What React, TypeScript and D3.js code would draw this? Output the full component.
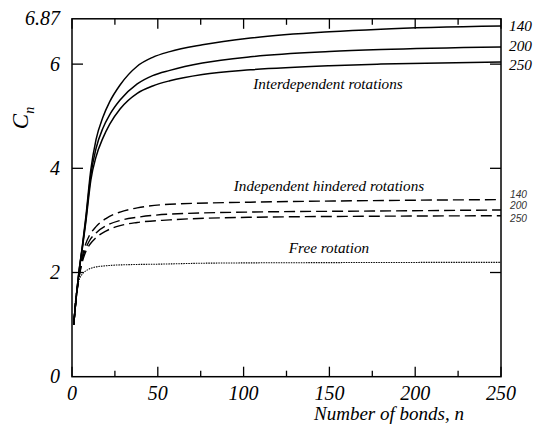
import React from "react";
import * as d3 from "d3";

const W = 535;
const H = 430;

// Interdependent rotations (solid) for 140, 200, 250
const solid140: [number, number][] = [[1,1],[2,1.37],[4,2.0],[6,2.5],[8,3.05],[11,3.98],[14,4.55],[18,4.98],[22,5.28],[28,5.6],[38,5.96],[47,6.13],[57,6.24],[76,6.37],[104,6.5],[150,6.62],[180,6.67],[250,6.73]];
const solid200: [number, number][] = [[1,1],[2,1.37],[4,2.0],[6,2.48],[8,3.0],[11,3.88],[14,4.38],[18,4.77],[22,5.03],[28,5.31],[38,5.62],[47,5.78],[57,5.88],[76,6.02],[104,6.14],[150,6.24],[180,6.28],[250,6.33]];
const solid250: [number, number][] = [[1,1],[2,1.37],[4,1.98],[6,2.46],[8,2.95],[11,3.78],[14,4.22],[18,4.58],[22,4.85],[28,5.14],[38,5.44],[47,5.58],[57,5.68],[76,5.8],[104,5.89],[150,5.97],[180,6.0],[250,6.04]];

// Independent hindered rotations (dashed)
const dash140: [number, number][] = [[1,1],[2,1.37],[4,1.92],[6,2.3],[8,2.55],[10,2.7],[14,2.88],[20,3.04],[28,3.16],[38,3.24],[57,3.31],[104,3.35],[175,3.38],[250,3.4]];
const dash200: [number, number][] = [[1,1],[2,1.37],[4,1.9],[6,2.25],[8,2.46],[10,2.6],[14,2.76],[20,2.9],[28,3.0],[38,3.06],[57,3.12],[104,3.16],[175,3.18],[250,3.2]];
const dash250: [number, number][] = [[1,1],[2,1.37],[4,1.88],[6,2.2],[8,2.4],[10,2.52],[14,2.67],[20,2.8],[28,2.9],[38,2.96],[57,3.01],[104,3.06],[175,3.08],[250,3.09]];

// Free rotation (dotted)
const freeRot: [number, number][] = [[1,1],[2,1.45],[3,1.7],[4,1.84],[6,1.97],[9,2.05],[13,2.1],[20,2.13],[32,2.15],[50,2.16],[80,2.18],[150,2.19],[250,2.195]];

const xMajor = [0, 50, 100, 150, 200, 250];
const xMinor = [25, 75, 125, 175, 225];
const yTicks = [0, 2, 4, 6];
const yTopLabel = 6.87;
const tempLabels = ["140", "200", "250"];

const x = d3.scaleLinear().domain([0, 250]).range([72, 501]);
const y = d3.scaleLinear().domain([0, 6.87]).range([376.7, 18.8]);

const line = d3
  .line<[number, number]>()
  .x((d) => x(d[0]))
  .y((d) => y(d[1]))
  .curve(d3.curveMonotoneX);

const SERIF = "Liberation Serif";
const SANS = "Liberation Sans";

export default function App() {
  const solids = [solid140, solid200, solid250];
  const dashes = [dash140, dash200, dash250];
  const solidLabelY = [31, 51, 69.5];
  const dashLabelY = [198, 208.5, 222];
  return (
    <svg width={W} height={H} style={{ position: "absolute", left: 0, top: 0, background: "#fff" }}>
      <rect x={0} y={0} width={W} height={H} fill="#fff" />
      {solids.map((s, i) => (
        <path key={"s" + i} d={line(s) || ""} fill="none" stroke="#000" strokeWidth={1.5} />
      ))}
      {dashes.map((s, i) => (
        <path key={"d" + i} d={line(s) || ""} fill="none" stroke="#000" strokeWidth={1.4} strokeDasharray="11,5" />
      ))}
      <path d={line(freeRot) || ""} fill="none" stroke="#000" strokeWidth={1.1} strokeDasharray="1.5,1" />

      <rect x={x(0)} y={y(6.87)} width={x(250) - x(0)} height={y(0) - y(6.87)} fill="none" stroke="#000" strokeWidth={1.5} />

      {xMajor.map((t) => (
        <g key={"xm" + t}>
          <line x1={x(t)} x2={x(t)} y1={y(0)} y2={y(0) - 10} stroke="#000" strokeWidth={1.3} />
          <line x1={x(t)} x2={x(t)} y1={y(6.87)} y2={y(6.87) + 10} stroke="#000" strokeWidth={1.3} />
          <text x={x(t)} y={399.5} textAnchor="middle" fontFamily={SERIF} fontStyle="italic" fontSize={20}>
            {t}
          </text>
        </g>
      ))}
      {xMinor.map((t) => (
        <g key={"xn" + t}>
          <line x1={x(t)} x2={x(t)} y1={y(0)} y2={y(0) - 6} stroke="#000" strokeWidth={1.3} />
          <line x1={x(t)} x2={x(t)} y1={y(6.87)} y2={y(6.87) + 6} stroke="#000" strokeWidth={1.3} />
        </g>
      ))}
      {yTicks.map((t) => (
        <g key={"y" + t}>
          {t > 0 && (
            <>
              <line x1={x(0)} x2={x(0) + 11} y1={y(t)} y2={y(t)} stroke="#000" strokeWidth={1.3} />
              <line x1={x(250)} x2={x(250) - 11} y1={y(t)} y2={y(t)} stroke="#000" strokeWidth={1.3} />
            </>
          )}
          <text x={60} y={y(t) + 6.5} textAnchor="end" fontFamily={SERIF} fontStyle="italic" fontSize={20}>
            {t}
          </text>
        </g>
      ))}
      <text x={60} y={y(yTopLabel) + 6.5} textAnchor="end" fontFamily={SERIF} fontStyle="italic" fontSize={20}>
        {yTopLabel}
      </text>

      <text x={389} y={420} textAnchor="middle" fontFamily={SERIF} fontStyle="italic" fontSize={19}>
        Number of bonds, n
      </text>
      <text transform="translate(28,118) rotate(-90)" textAnchor="middle" fontFamily={SERIF} fontStyle="italic" fontSize={23}>
        C<tspan fontSize={14} dy={6}>n</tspan>
      </text>

      <text x={328} y={89} textAnchor="middle" fontFamily={SERIF} fontStyle="italic" fontSize={15.2}>
        Interdependent rotations
      </text>
      <text x={329} y={191} textAnchor="middle" fontFamily={SERIF} fontStyle="italic" fontSize={15.2}>
        Independent hindered rotations
      </text>
      <text x={329} y={253} textAnchor="middle" fontFamily={SERIF} fontStyle="italic" fontSize={15.2}>
        Free rotation
      </text>

      {tempLabels.map((l, i) => (
        <text key={"sl" + i} x={509} y={solidLabelY[i]} fontFamily={SERIF} fontStyle="italic" fontSize={15.3}>
          {l}
        </text>
      ))}
      {tempLabels.map((l, i) => (
        <text key={"dl" + i} x={510} y={dashLabelY[i]} fontFamily={SANS} fontStyle="italic" fontSize={10.2} fill="#333">
          {l}
        </text>
      ))}
    </svg>
  );
}
